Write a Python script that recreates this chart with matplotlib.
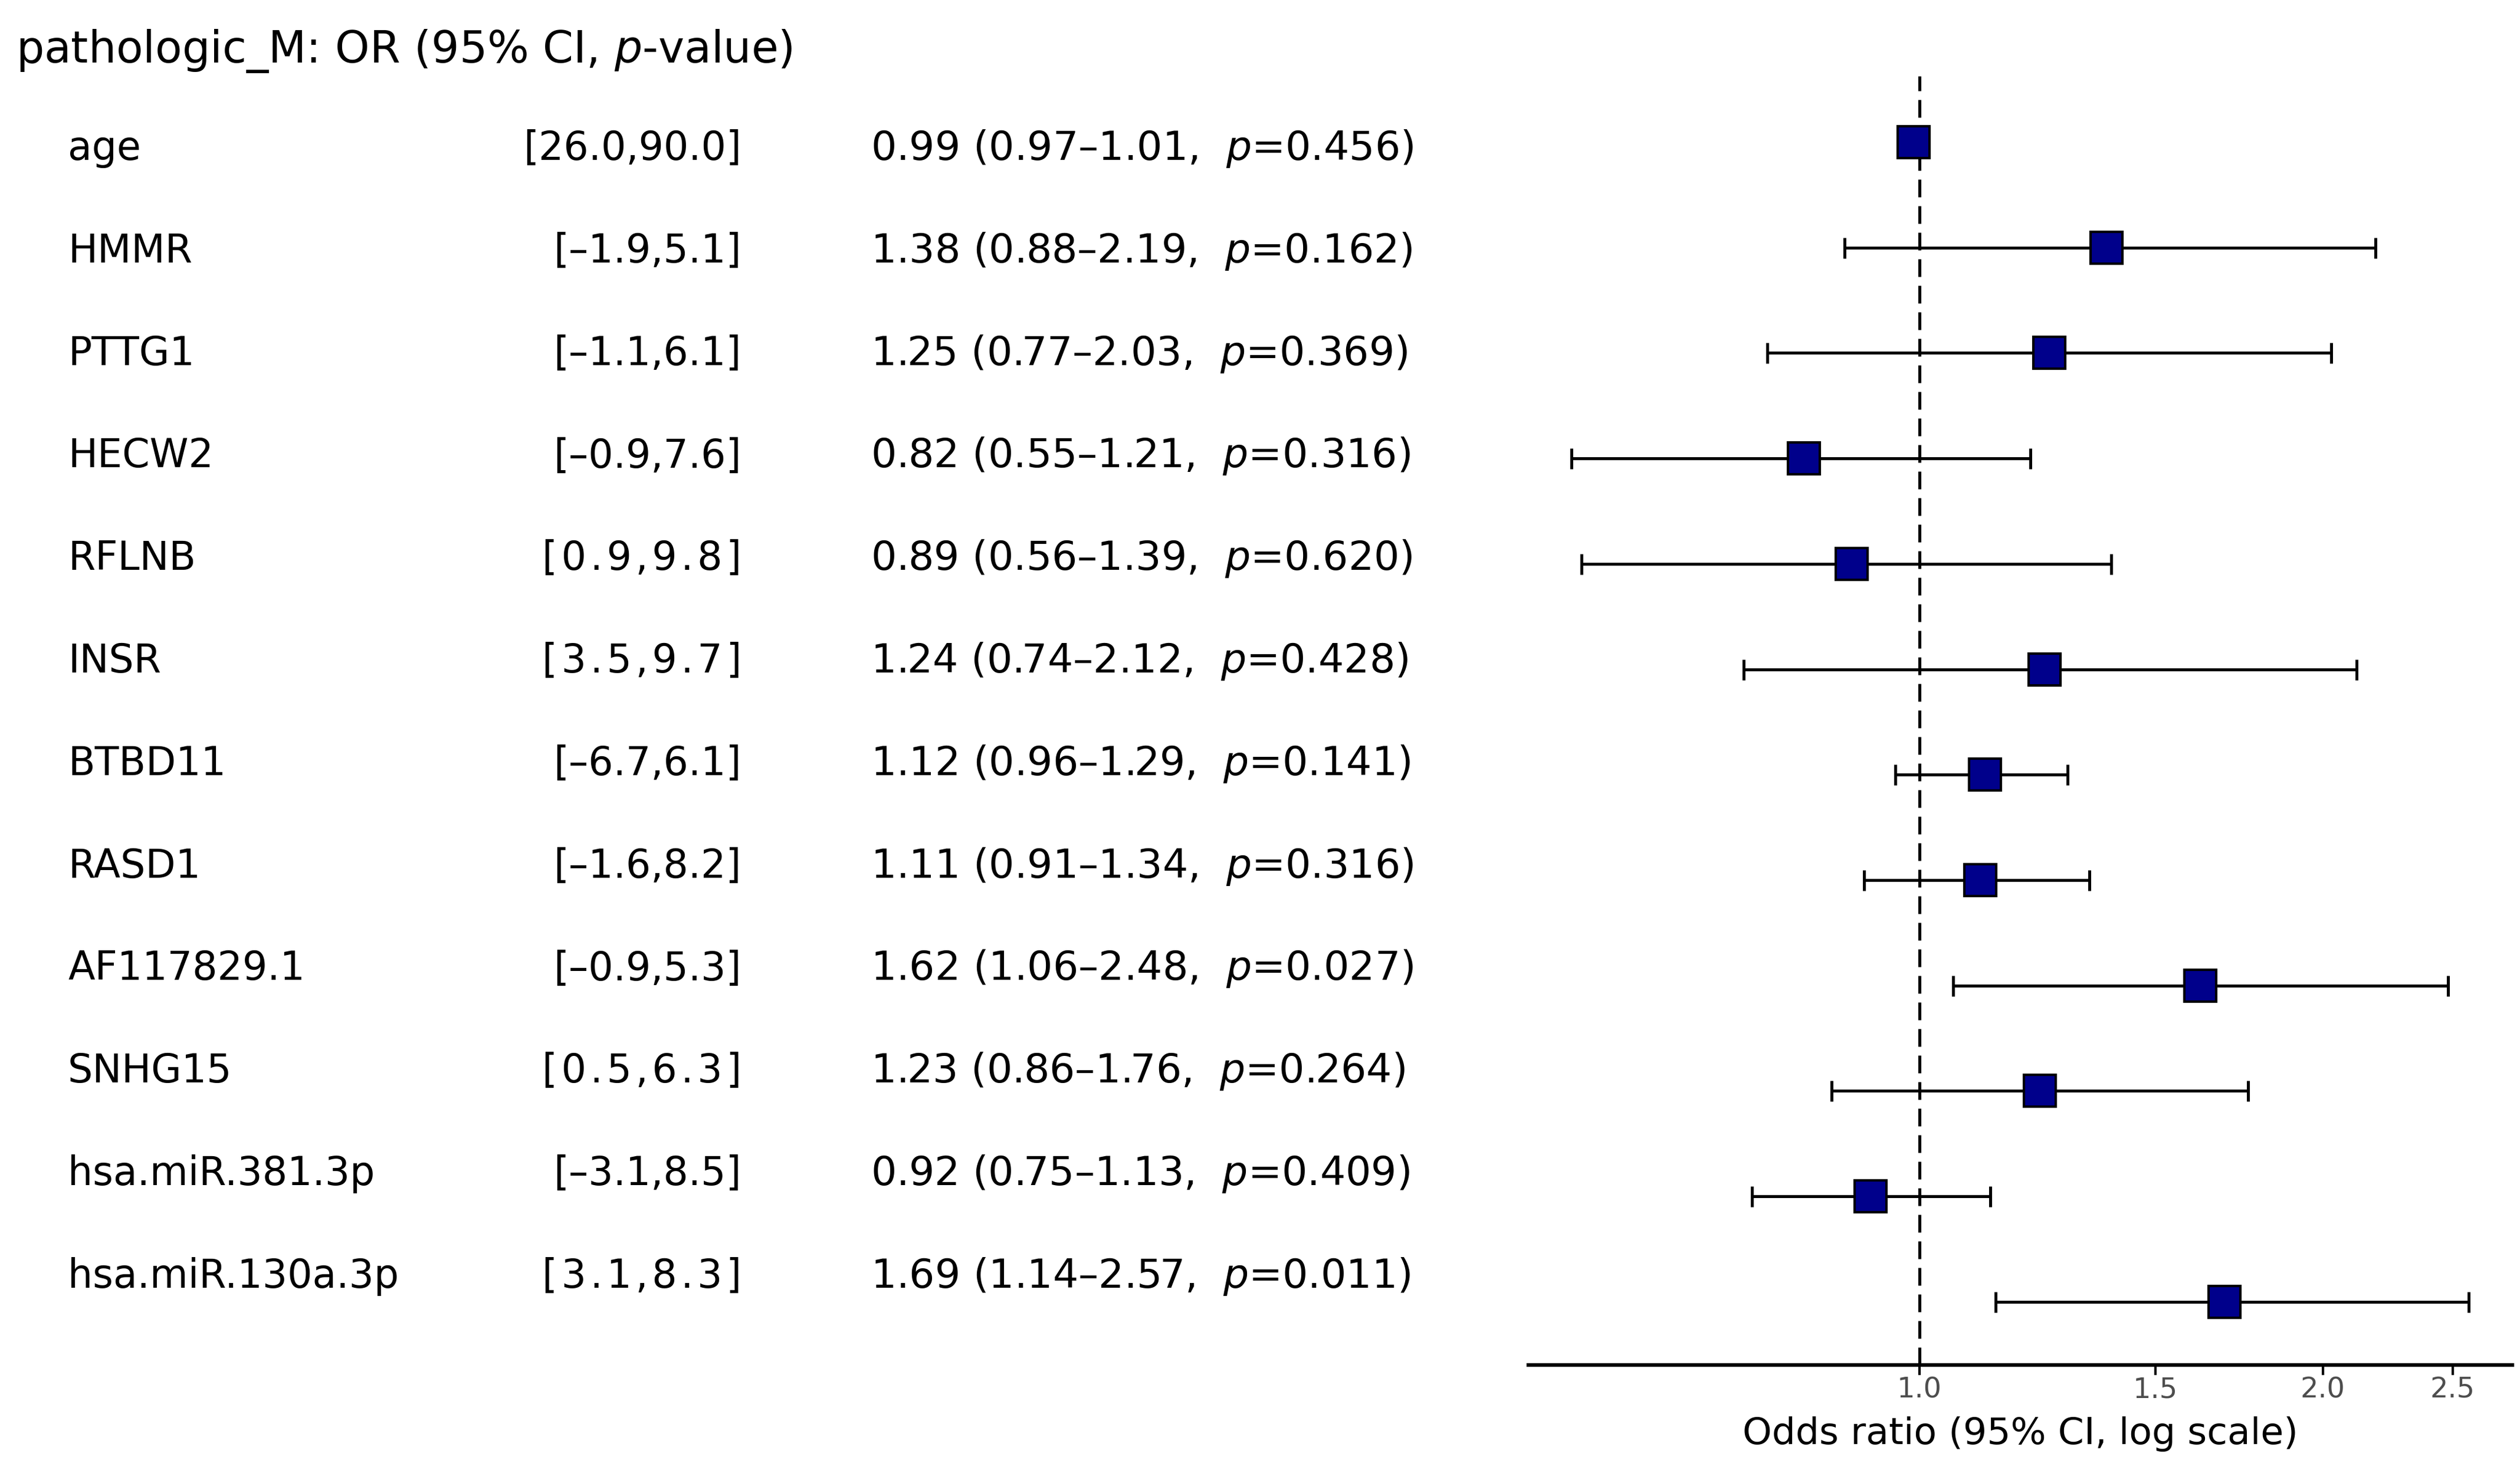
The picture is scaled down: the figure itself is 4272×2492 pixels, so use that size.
import matplotlib
matplotlib.use("Agg")
import matplotlib.pyplot as plt
from matplotlib.ticker import FixedLocator, FixedFormatter, NullLocator

# ---------------- data ----------------
variables = ["age", "HMMR", "PTTG1", "HECW2", "RFLNB", "INSR", "BTBD11",
             "RASD1", "AF117829.1", "SNHG15", "hsa.miR.381.3p", "hsa.miR.130a.3p"]
range_lo = [26.0, -1.9, -1.1, -0.9, 0.9, 3.5, -6.7, -1.6, -0.9, 0.5, -3.1, 3.1]
range_hi = [90.0, 5.1, 6.1, 7.6, 9.8, 9.7, 6.1, 8.2, 5.3, 6.3, 8.5, 8.3]
odds_ratio = [0.99, 1.38, 1.25, 0.82, 0.89, 1.24, 1.12, 1.11, 1.62, 1.23, 0.92, 1.69]
ci_low = [0.97, 0.88, 0.77, 0.55, 0.56, 0.74, 0.96, 0.91, 1.06, 0.86, 0.75, 1.14]
ci_high = [1.01, 2.19, 2.03, 1.21, 1.39, 2.12, 1.29, 1.34, 2.48, 1.76, 1.13, 2.57]
p_values = [0.456, 0.162, 0.369, 0.316, 0.620, 0.428, 0.141, 0.316, 0.027, 0.264, 0.409, 0.011]
x_ticks = [1.0, 1.5, 2.0, 2.5]
x_tick_labels = ["1.0", "1.5", "2.0", "2.5"]
title = r"pathologic_M: OR (95% CI, $p$-value)"
x_label = "Odds ratio (95% CI, log scale)"

# ---------------- figure ----------------
W, H = 4272, 2492
DPI = 300
fig = plt.figure(figsize=(W / DPI, H / DPI), dpi=DPI)
plt.rcParams['font.family'] = ['DejaVu Sans']


def fx(px):
    return px / W


def fy(py):
    return 1 - py / H


def fmt(v):
    return "{:.1f}".format(v).replace("-", "\u2013")


def range_text(lo, hi):
    s = "[{},{}]".format(fmt(lo), fmt(hi))
    # short non-negative ranges are letter-spaced in the reference
    if lo >= 0 and len(s) <= 9:
        s = "\u200a".join(s)
    return s


# title
fig.text(fx(27), fy(106), title, fontsize=17.9, ha="left", va="baseline")

# table text
row_fs = 16
base0 = 271
step = 173.8
for i, name in enumerate(variables):
    yb = fy(base0 + i * step)
    fig.text(fx(115), yb, name, fontsize=row_fs, ha="left", va="baseline")
    fig.text(fx(1257), yb, range_text(range_lo[i], range_hi[i]),
             fontsize=row_fs, ha="right", va="baseline")
    s = "{:.2f} ({:.2f}\u2013{:.2f},  $p$=".format(odds_ratio[i], ci_low[i], ci_high[i]) \
        + "{:.3f})".format(p_values[i])
    fig.text(fx(1476), yb, s, fontsize=16.35, ha="left", va="baseline")

# forest axes
left, right, top, bottom = 2591, 4259, 129, 2314
ax = fig.add_axes([fx(left), fy(bottom), fx(right - left), (bottom - top) / H])
ypos = list(range(len(variables)))
xerr = [[o - l for o, l in zip(odds_ratio, ci_low)],
        [h - o for o, h in zip(odds_ratio, ci_high)]]
ax.axvline(1.0, color="black", lw=1.2, dashes=(6, 3), zorder=1)
ax.errorbar(odds_ratio, ypos, xerr=xerr, fmt="none", ecolor="black",
            elinewidth=1.2, capsize=4.2, capthick=1.2, zorder=2)
ax.plot(odds_ratio, ypos, linestyle="none", marker="s", markersize=13,
        markerfacecolor="#00008B", markeredgecolor="black", markeredgewidth=1.0,
        zorder=3)

ax.set_xscale("log")
ax.set_xlim(0.511, 2.77)
ax.set_ylim(len(variables) - 1 + 0.6, -0.627)
ax.xaxis.set_major_locator(FixedLocator(x_ticks))
ax.xaxis.set_major_formatter(FixedFormatter(x_tick_labels))
ax.xaxis.set_minor_locator(NullLocator())
ax.set_yticks([])
for sp in ["left", "right", "top"]:
    ax.spines[sp].set_visible(False)
ax.spines["bottom"].set_linewidth(1.5)
ax.tick_params(axis="x", length=4, width=1.0, colors="black", labelcolor="#4D4D4D",
               labelsize=11.5, pad=0.5, direction="out")
ax.set_xlabel(x_label, fontsize=15.2, labelpad=5)
ax.patch.set_alpha(0)

fig.savefig("out.png", dpi=DPI)
